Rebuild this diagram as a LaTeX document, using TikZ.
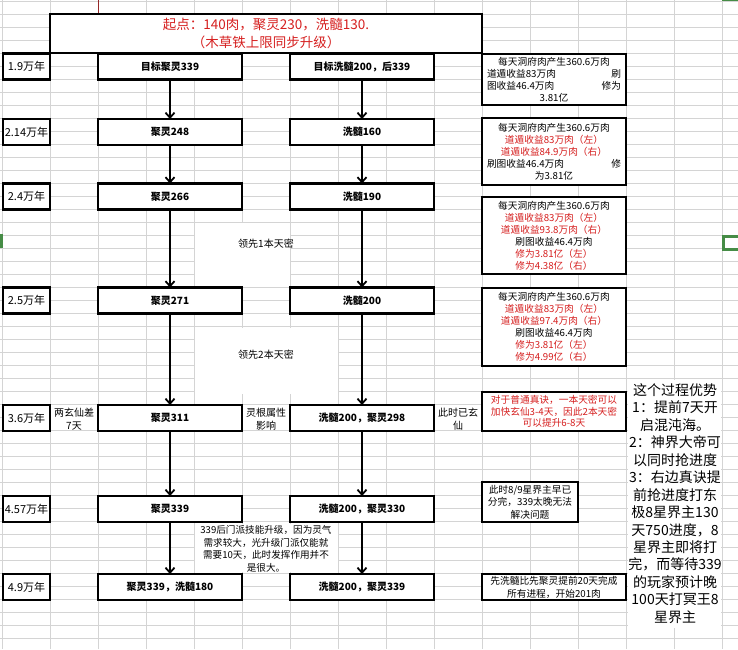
\documentclass[tikz,border=0pt]{standalone}
\usepackage{fontspec}
\setmainfont{Noto Sans CJK SC}
\usetikzlibrary{arrows.meta}
\definecolor{gridc}{RGB}{212,212,212}
\definecolor{redt}{RGB}{214,32,32}
\definecolor{selg}{RGB}{70,140,70}
\definecolor{tickc}{RGB}{150,40,40}
\tikzset{
 bx/.style={draw, line width=2.2pt, fill=white, inner sep=0pt, outer sep=0pt, align=center},
 mainbx/.style={bx, minimum width=144pt, minimum height=26pt, font=\fontsize{10}{12}\selectfont\bfseries},
 yearbx/.style={bx, minimum width=47pt, minimum height=26pt, font=\fontsize{11}{13}\selectfont},
 notebx/.style={bx, minimum width=144pt, font=\fontsize{9.7}{12}\selectfont},
 celltxt/.style={inner sep=0pt, align=center, font=\fontsize{10}{13}\selectfont},
 arr/.style={line width=1.8pt, -{Straight Barb[length=5pt,width=9pt]}},
 gridline/.style={gridc, line width=0.8pt},
 whitebg/.style={fill=white, draw=none},
}
\begin{document}
\begin{tikzpicture}[x=1pt,y=-1pt]
\useasboundingbox[fill=white] (0,0) rectangle (738,649);
% spreadsheet grid
\foreach \i in {0,...,15} \draw[gridline] ({2+48*\i},0) -- ({2+48*\i},649);
\foreach \j in {0,...,49} \draw[gridline] (0,{1.5+13*\j}) -- (738,{1.5+13*\j});
% white text areas
\fill[whitebg] (195,223) rectangle (290,286);
\fill[whitebg] (195,328) rectangle (338,394);
\fill[whitebg] (195,524) rectangle (338,572);
\fill[whitebg] (628,380) rectangle (721,628);
\fill[whitebg] (51,407) rectangle (97,430);
\fill[whitebg] (243,407) rectangle (289,430);
\fill[whitebg] (435,407) rectangle (481,430);
% selection marks
\draw[tickc, line width=1pt] (98,0) -- (98,14);
\draw[selg, line width=3pt] (1,234) -- (1,248);
\draw[selg, line width=3pt] (740,236) -- (723.5,236) -- (723.5,249) -- (740,249);
\draw[selg, line width=1.5pt] (722,0.7) -- (738,0.7);

% top box
\node[bx, minimum width=432pt, minimum height=39pt, font=\fontsize{13.5}{18}\selectfont, text=redt] (top) at (266,33.5) {起点：140肉，聚灵230，洗髓130.\\（木草铁上限同步升级）};

% year labels
\node[yearbx] (y1) at (26.5,66.5) {1.9万年};
\node[yearbx] (y2) at (26.5,132) {2.14万年};
\node[yearbx] (y3) at (26.5,196.5) {2.4万年};
\node[yearbx] (y4) at (26.5,300.5) {2.5万年};
\node[yearbx] (y5) at (26.5,418) {3.6万年};
\node[yearbx] (y6) at (26.5,509) {4.57万年};
\node[yearbx] (y7) at (26.5,587) {4.9万年};

% left column
\node[mainbx] (l1) at (170,66.5) {目标聚灵339};
\node[mainbx] (l2) at (170,132) {聚灵248};
\node[mainbx] (l3) at (170,196.5) {聚灵266};
\node[mainbx] (l4) at (170,300.5) {聚灵271};
\node[mainbx] (l5) at (170,418) {聚灵311};
\node[mainbx] (l6) at (170,509) {聚灵339};
\node[mainbx] (l7) at (170,587) {聚灵339，洗髓180};

% right column
\node[mainbx] (c1) at (362,66.5) {目标洗髓200，后339};
\node[mainbx] (c2) at (362,132) {洗髓160};
\node[mainbx] (c3) at (362,196.5) {洗髓190};
\node[mainbx] (c4) at (362,300.5) {洗髓200};
\node[mainbx] (c5) at (362,418) {洗髓200，聚灵298};
\node[mainbx] (c6) at (362,509) {洗髓200，聚灵330};
\node[mainbx] (c7) at (362,587) {洗髓200，聚灵339};

% arrows
\foreach \a/\b in {l1/l2,l2/l3,l3/l4,l4/l5,l5/l6,l6/l7,c1/c2,c2/c3,c3/c4,c4/c5,c5/c6,c6/c7}
  \draw[arr] (\a.south) -- (\b.north);

% cell texts
\node[celltxt] (m1) at (266,244) {领先1本天密};
\node[celltxt] (m2) at (266,355) {领先2本天密};
\node[celltxt] (t51) at (74,419.5) {两玄仙差\\7天};
\node[celltxt] (t52) at (266,419.5) {灵根属性\\影响};
\node[celltxt] (t53) at (458,419.5) {此时已玄\\仙};
\node[celltxt, font=\fontsize{9.6}{12.6}\selectfont] (m3) at (266,549) {339后门派技能升级，因为灵气\\需求较大，光升级门派仅能就\\需要10天，此时发挥作用并不\\是很大。};

% note boxes
\node[notebx, minimum height=51pt] (r1) at (554,79.5) {每天洞府肉产生360.6万肉\\\makebox[134pt]{道遁收益83万肉\hfill 刷}\\\makebox[134pt]{图收益46.4万肉\hfill 修为}\\3.81亿};
\node[notebx, minimum height=67pt] (r2) at (554,151.5) {每天洞府肉产生360.6万肉\\\textcolor{redt}{道遁收益83万肉（左）}\\\textcolor{redt}{道遁收益84.9万肉（右）}\\\makebox[134pt]{刷图收益46.4万肉\hfill 修}\\为3.81亿};
\node[notebx, minimum height=77pt] (r3) at (554,235.5) {每天洞府肉产生360.6万肉\\\textcolor{redt}{道遁收益83万肉（左）}\\\textcolor{redt}{道遁收益93.8万肉（右）}\\刷图收益46.4万肉\\\textcolor{redt}{修为3.81亿（左）}\\\textcolor{redt}{修为4.38亿（右）}};
\node[notebx, minimum height=78pt] (r4) at (554,327) {每天洞府肉产生360.6万肉\\\textcolor{redt}{道遁收益83万肉（左）}\\\textcolor{redt}{道遁收益97.4万肉（右）}\\刷图收益46.4万肉\\\textcolor{redt}{修为3.81亿（左）}\\\textcolor{redt}{修为4.99亿（右）}};
\node[notebx, minimum height=39pt, text=redt, font=\fontsize{9.7}{11.6}\selectfont] (r5) at (554,411.5) {对于普通真诀，一本天密可以\\加快玄仙3-4天，因此2本天密\\可以提升6-8天};
\node[notebx, minimum width=96pt, minimum height=40pt, font=\fontsize{9.7}{12.5}\selectfont] (r6) at (530,502) {此时8/9星界主早已\\分完，339太晚无法\\解决问题};
\node[notebx, minimum height=26pt, font=\fontsize{9.7}{13}\selectfont] (r7) at (554,587) {先洗髓比先聚灵提前20天完成\\所有进程，开始201肉};

% advantages
\node[inner sep=0pt, align=center, font=\fontsize{14}{17.45}\selectfont] (adv) at (675,503.5) {这个过程优势\\1：提前7天开\\启混沌海。\\2：神界大帝可\\以同时抢进度\\3：右边真诀提\\前抢进度打东\\极8星界主130\\天750进度，8\\星界主即将打\\完，而等待339\\的玩家预计晚\\100天打冥王8\\星界主};
\end{tikzpicture}
\end{document}
